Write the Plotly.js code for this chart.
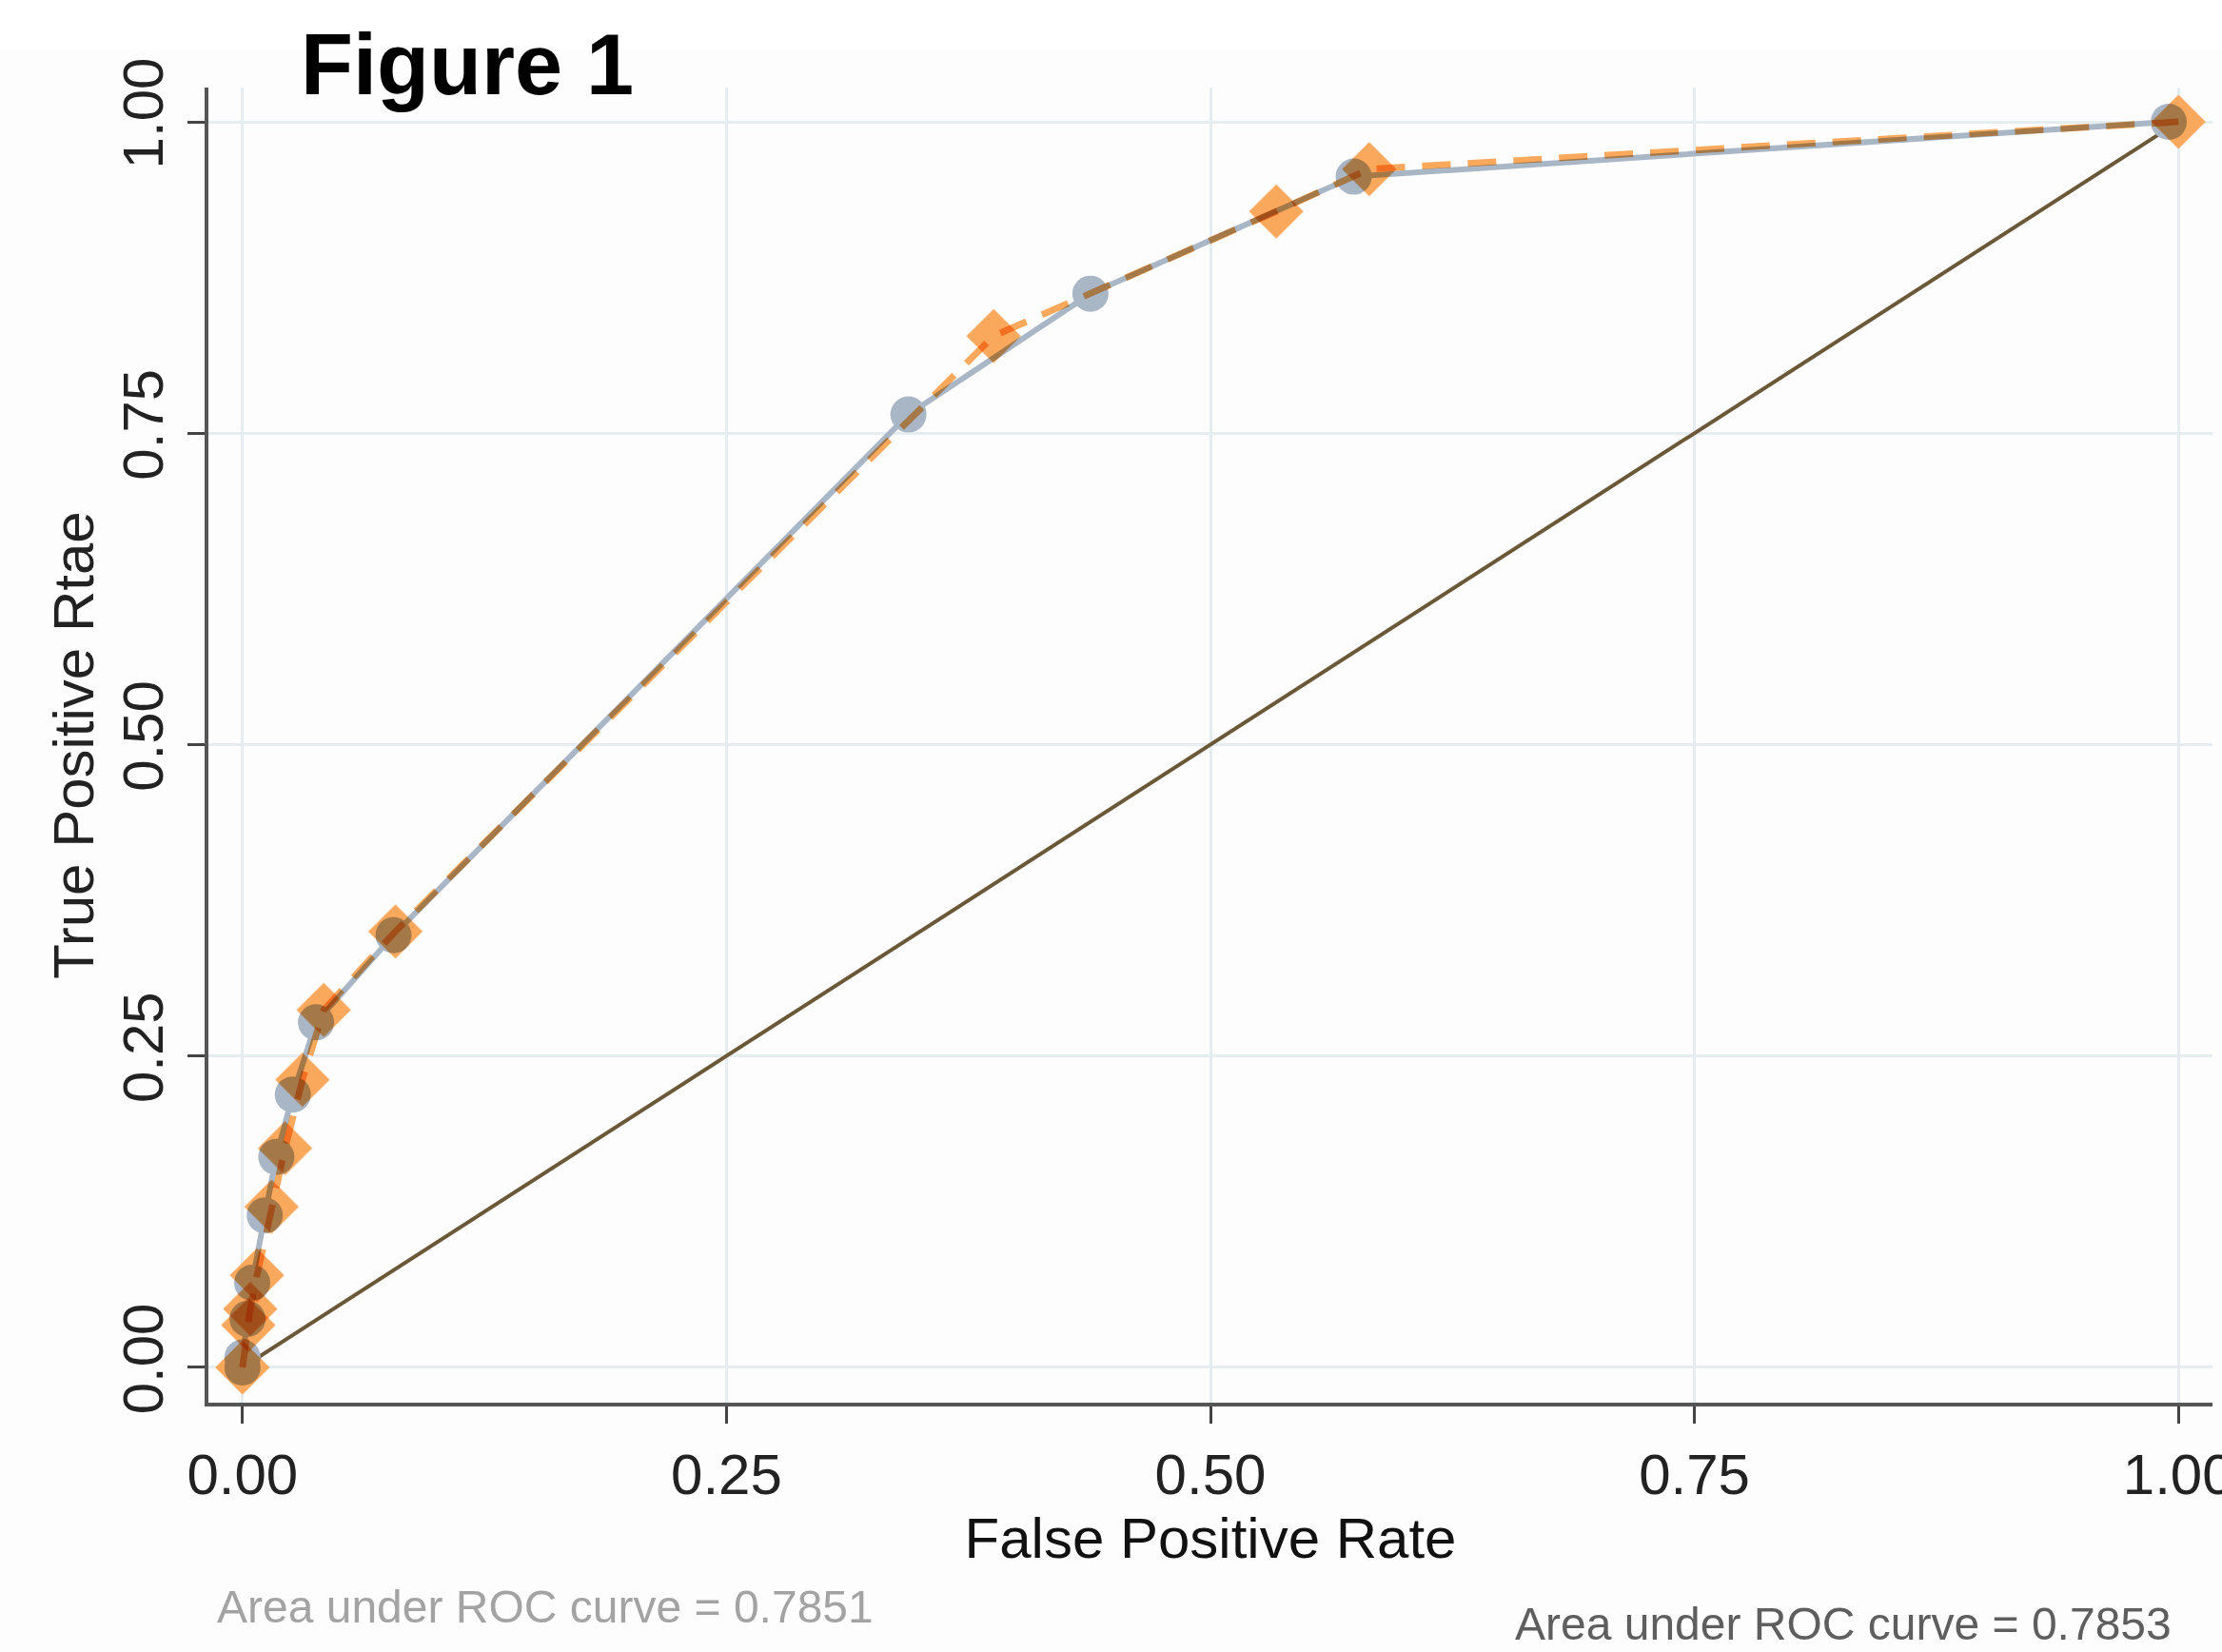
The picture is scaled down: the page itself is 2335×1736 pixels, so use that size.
<!DOCTYPE html>
<html>
<head>
<meta charset="utf-8">
<script src="https://cdn.plot.ly/plotly-3.0.1.min.js"></script>
<style>
html,body{margin:0;padding:0;background:#fdfdfd;}
#chart{width:2335px;height:1736px;}
</style>
</head>
<body>
<div id="chart"></div>
<script>
// Model A (grey circles): ROC points
const fprA = [0, 0, 0.0026, 0.005, 0.0115, 0.0175, 0.026, 0.038, 0.078, 0.344, 0.438, 0.574, 0.995];
const tprA = [0, 0.008, 0.039, 0.068, 0.122, 0.169, 0.219, 0.277, 0.347, 0.765, 0.862, 0.956, 1.0];
// Model B (orange diamonds): ROC points
const fprB = [0, 0.003, 0.004, 0.0075, 0.015, 0.022, 0.031, 0.042, 0.079, 0.388, 0.534, 0.582, 1.0];
const tprB = [0, 0.034, 0.047, 0.074, 0.129, 0.176, 0.231, 0.287, 0.350, 0.828, 0.928, 0.962, 1.0];
// Reference (chance) line
const refX = [0, 1];
const refY = [0, 1];
const tickVals = [0, 0.25, 0.5, 0.75, 1];
const tickText = ["0.00", "0.25", "0.50", "0.75", "1.00"];
const aucA = "Area under ROC curve = 0.7851";
const aucB = "Area under ROC curve = 0.7853";

const FONT = "'Liberation Sans', Arial, Helvetica, sans-serif";

const traces = [
  {x: refX, y: refY, mode: "lines", type: "scatter",
   line: {color: "#6b5838", width: 4}, hoverinfo: "skip", showlegend: false},
  {x: fprA, y: tprA, mode: "lines+markers", type: "scatter",
   line: {color: "#a9b6c6", width: 6},
   marker: {symbol: "circle", size: 38, color: "#a9b6c6"}, showlegend: false},
  {x: fprB, y: tprB, mode: "lines+markers", type: "scatter",
   line: {color: "#f9a85c", width: 7, dash: "30px,18px"},
   marker: {symbol: "diamond", size: 44, color: "#f9a85c"}, showlegend: false}
];

const axisCommon = {
  tickvals: tickVals, ticktext: tickText,
  showgrid: true, gridcolor: "#e6edf0", gridwidth: 3,
  zeroline: false, showline: true, linecolor: "#555555", linewidth: 4,
  ticks: "outside", ticklen: 18, tickwidth: 3, tickcolor: "#444444",
  tickfont: {family: FONT, size: 60, color: "#222222"},
  ticklabeloverflow: "allow",
  mirror: false
};

const layout = {
  width: 2335, height: 1736,
  paper_bgcolor: "#fdfdfd", plot_bgcolor: "#fdfdfd",
  margin: {l: 219, r: 10, t: 92, b: 262},
  showlegend: false,
  title: {text: "<b>Figure 1</b>", font: {family: FONT, size: 90, color: "#000000"},
          x: 316/2335, xanchor: "left", xref: "container",
          y: 1 - 36/1736, yanchor: "top", yref: "container"},
  xaxis: Object.assign({}, axisCommon, {
    range: [-0.0176, 1.0176],
    ticklabelstandoff: 2,
    title: {text: "False Positive Rate", font: {family: FONT, size: 60, color: "#111111"}, standoff: 0}
  }),
  yaxis: Object.assign({}, axisCommon, {
    range: [-0.0283, 1.0275],
    tickangle: -90,
    ticklabelstandoff: 2,
    title: {text: "True Positive Rtae", font: {family: FONT, size: 60, color: "#222222"}, standoff: 0}
  }),
  annotations: [
    {text: aucA, xref: "paper", yref: "paper", x: 0.0033, y: -0.155,
     xanchor: "left", yanchor: "middle", showarrow: false,
     font: {family: FONT, size: 48, color: "#a3a3a3"}},
    {text: aucB, xref: "paper", yref: "paper", x: 0.651, y: -0.168,
     xanchor: "left", yanchor: "middle", showarrow: false,
     font: {family: FONT, size: 48, color: "#5e5e5e"}}
  ],
  shapes: [
    {type: "rect", xref: "paper", yref: "paper", x0: -0.2, x1: 1.2,
     y0: 1 + 40/1382, y1: 1 + 92/1382, fillcolor: "#ffffff", line: {width: 0}, layer: "below"}
  ]
};

Plotly.newPlot("chart", traces, layout, {staticPlot: true}).then(function () {
  const tr = document.querySelectorAll("#chart .scatterlayer .trace");
  if (tr.length >= 3) {
    tr[2].querySelectorAll("path").forEach(function (p) { p.style.mixBlendMode = "multiply"; });
  }
});
</script>
</body>
</html>
